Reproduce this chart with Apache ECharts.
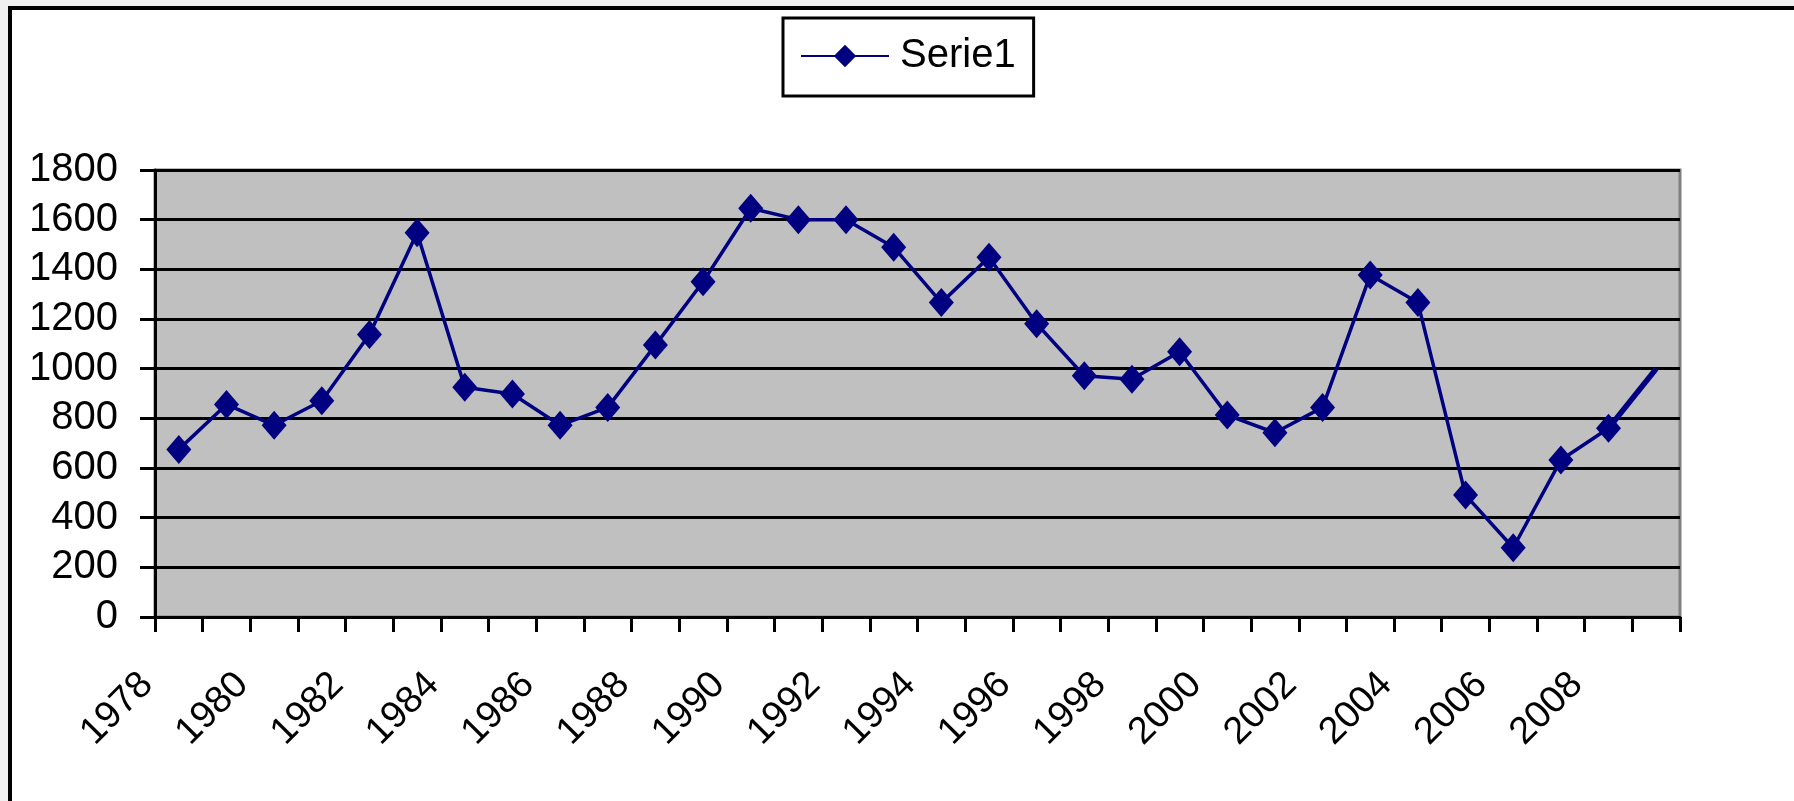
<!DOCTYPE html>
<html>
<head>
<meta charset="utf-8">
<script src="https://cdn.jsdelivr.net/npm/echarts@6/dist/echarts.min.js"></script>
<style>
  html, body { margin: 0; padding: 0; background: #f0f0f0; }
  #frame { position: absolute; left: 8px; top: 6px; width: 1800px; height: 820px; background: #ffffff; border: 4px solid #000; box-sizing: border-box; }
  #chart { position: absolute; left: 0; top: 0; width: 1794px; height: 801px; }
</style>
</head>
<body>
<div id="frame"></div>
<div id="chart"></div>
<script>
const categories = ['1978','1979','1980','1981','1982','1983','1984','1985','1986','1987','1988','1989','1990','1991','1992','1993','1994','1995','1996','1997','1998','1999','2000','2001','2002','2003','2004','2005','2006','2007','2008','2009'];
const serie1 = [675, 856, 772, 871, 1138, 1547, 925, 898, 772, 844, 1095, 1350, 1646, 1600, 1600, 1489, 1266, 1449, 1181, 971, 957, 1068, 813, 742, 844, 1377, 1266, 491, 279, 632, 760, 1000];
const yTicks = { min: 0, max: 1800, interval: 200 };

const FONT = '"Liberation Sans", Arial, sans-serif';
const last = serie1.length - 1;
const mainData = serie1.map((v, i) => i === last ? { value: v, symbol: 'none' } : v);
const tailData = serie1.map((v, i) => (i >= last - 1) ? v : null);

const chart = echarts.init(document.getElementById('chart'), null, { renderer: 'canvas' });
chart.setOption({
  animation: false,
  backgroundColor: 'transparent',
  textStyle: { fontFamily: FONT },
  legend: {
    data: ['Serie1'],
    left: 783, top: 18,
    padding: [18, 18, 20, 17],
    borderColor: '#000', borderWidth: 3,
    backgroundColor: '#fff',
    itemWidth: 88, itemHeight: 28,
    textStyle: { fontSize: 40, color: '#000', fontFamily: FONT, padding: [0, 0, 0, 6] }
  },
  grid: {
    left: 155, top: 170, right: 114, bottom: 184,
    show: true, backgroundColor: '#C0C0C0', borderColor: '#808080', borderWidth: 3
  },
  xAxis: {
    type: 'category',
    data: categories,
    boundaryGap: true,
    axisLine: { show: true, lineStyle: { color: '#000', width: 3 } },
    axisTick: { show: true, interval: 0, length: 15, lineStyle: { color: '#000', width: 3 } },
    axisLabel: { interval: 1, rotate: 45, fontSize: 38, color: '#000', fontFamily: FONT, margin: 30, padding: [0, 45, 0, 0] },
    splitLine: { show: false }
  },
  yAxis: {
    type: 'value',
    min: yTicks.min, max: yTicks.max, interval: yTicks.interval,
    axisLine: { show: true, lineStyle: { color: '#000', width: 3 } },
    axisTick: { show: true, length: 15, lineStyle: { color: '#000', width: 3 } },
    axisLabel: { fontSize: 40, color: '#000', fontFamily: FONT, margin: 37, formatter: (v) => String(v) },
    splitLine: { show: true, lineStyle: { color: '#000', width: 3 } }
  },
  series: [
    {
      name: 'Serie1',
      type: 'line',
      data: mainData,
      z: 3,
      symbol: 'diamond',
      symbolSize: [25, 29],
      showAllSymbol: true,
      lineStyle: { color: '#000080', width: 3.5 },
      itemStyle: { color: '#000080' }
    },
    {
      name: 'tail',
      type: 'line',
      data: tailData,
      z: 2,
      symbol: 'none',
      lineStyle: { color: '#000080', width: 5.5 },
      itemStyle: { color: '#000080' },
      legendHoverLink: false
    }
  ]
});
</script>
</body>
</html>
